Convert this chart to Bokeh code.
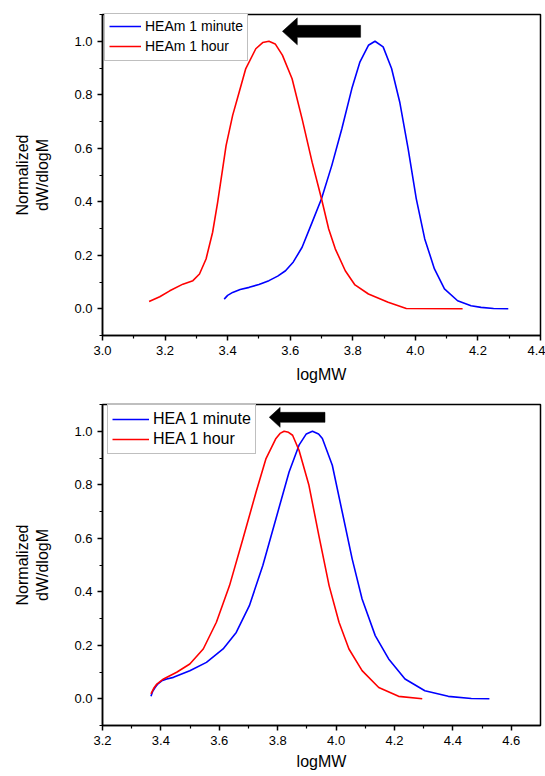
from bokeh.plotting import figure
from bokeh.layouts import column
from bokeh.models import (FixedTicker, PrintfTickFormatter, Legend, LegendItem,
                          Range1d)
from bokeh.embed import file_html
from bokeh.resources import INLINE

# ---------------- data: top panel (HEAm) ----------------
heam_1min_x = [3.389, 3.400, 3.416, 3.440, 3.469, 3.500, 3.532, 3.560, 3.585,
               3.610, 3.638, 3.670, 3.700, 3.733, 3.765, 3.797, 3.823, 3.850,
               3.871, 3.897, 3.924, 3.950, 3.977, 4.003, 4.030, 4.061, 4.093,
               4.135, 4.178, 4.210, 4.250, 4.297]
heam_1min_y = [0.036, 0.050, 0.061, 0.072, 0.080, 0.091, 0.105, 0.122, 0.142,
               0.175, 0.230, 0.323, 0.411, 0.536, 0.673, 0.823, 0.923, 0.985,
               1.000, 0.979, 0.898, 0.773, 0.598, 0.411, 0.261, 0.149, 0.074,
               0.030, 0.011, 0.005, 0.001, 0.000]
heam_1h_x = [3.149, 3.183, 3.215, 3.257, 3.289, 3.310, 3.331, 3.352, 3.368,
             3.384, 3.395, 3.416, 3.437, 3.458, 3.490, 3.512, 3.532, 3.552,
             3.575, 3.606, 3.638, 3.670, 3.700, 3.723, 3.744, 3.776, 3.807,
             3.850, 3.913, 3.971, 4.151]
heam_1h_y = [0.027, 0.045, 0.067, 0.092, 0.105, 0.130, 0.186, 0.286, 0.398,
             0.523, 0.610, 0.723, 0.810, 0.898, 0.972, 0.995, 1.000, 0.990,
             0.948, 0.860, 0.710, 0.548, 0.411, 0.298, 0.224, 0.142, 0.089,
             0.055, 0.024, 0.001, 0.000]

# ---------------- data: bottom panel (HEA) ----------------
hea_1min_x = [3.366, 3.372, 3.380, 3.390, 3.403, 3.420, 3.443, 3.499, 3.556,
              3.613, 3.658, 3.703, 3.749, 3.794, 3.839, 3.873, 3.898, 3.919,
              3.940, 3.953, 3.987, 4.021, 4.055, 4.089, 4.134, 4.180, 4.236,
              4.304, 4.384, 4.463, 4.525]
hea_1min_y = [0.009, 0.028, 0.042, 0.056, 0.067, 0.074, 0.080, 0.105, 0.136,
              0.186, 0.248, 0.348, 0.498, 0.673, 0.848, 0.948, 0.990, 1.000,
              0.990, 0.973, 0.873, 0.698, 0.523, 0.373, 0.236, 0.149, 0.074,
              0.030, 0.009, 0.001, 0.000]
hea_1h_x = [3.366, 3.375, 3.386, 3.409, 3.454, 3.499, 3.545, 3.590, 3.635,
            3.681, 3.726, 3.760, 3.794, 3.808, 3.822, 3.837, 3.851, 3.873,
            3.907, 3.941, 3.976, 4.010, 4.044, 4.089, 4.146, 4.214, 4.295]
hea_1h_y = [0.018, 0.038, 0.055, 0.074, 0.099, 0.130, 0.186, 0.286, 0.423,
            0.598, 0.773, 0.898, 0.973, 0.992, 1.000, 0.996, 0.985, 0.929,
            0.798, 0.610, 0.423, 0.286, 0.186, 0.105, 0.042, 0.009, 0.000]

top_labels = ["HEAm 1 minute", "HEAm 1 hour"]
bottom_labels = ["HEA 1 minute", "HEA 1 hour"]
y_ticks = [0.0, 0.2, 0.4, 0.6, 0.8, 1.0]
top_x_ticks = [3.0, 3.2, 3.4, 3.6, 3.8, 4.0, 4.2, 4.4]
bottom_x_ticks = [3.2, 3.4, 3.6, 3.8, 4.0, 4.2, 4.4, 4.6]

FONT = "Liberation Sans"
BLUE = "#0000ff"
RED = "#ff0000"
WIDTH = 545


def make_panel(xr, x_ticks, height, border_left, border_right, border_top,
               border_bottom, series, labels, legend_font, glyph_w, legend_pos,
               arrow, tick_font, xlabel_standoff):
    p = figure(width=WIDTH, height=height, x_range=Range1d(*xr),
               y_range=Range1d(-0.1, 1.1), output_backend="svg",
               toolbar_location=None, min_border_left=border_left,
               min_border_right=border_right, min_border_top=border_top,
               min_border_bottom=border_bottom,
               background_fill_color="white", border_fill_color="white",
               outline_line_color="black", outline_line_width=1.5)
    p.grid.visible = False

    x_minor = [round(t + 0.1, 2) for t in x_ticks[:-1]] + [round(x_ticks[0] - 0.1, 2)]
    p.xaxis.ticker = FixedTicker(ticks=x_ticks, minor_ticks=x_minor)
    p.yaxis.ticker = FixedTicker(ticks=y_ticks,
                                 minor_ticks=[-0.1, 0.1, 0.3, 0.5, 0.7, 0.9, 1.1])
    p.xaxis.formatter = PrintfTickFormatter(format="%.1f")
    p.yaxis.formatter = PrintfTickFormatter(format="%.1f")

    for ax in (p.xaxis[0], p.yaxis[0]):
        ax.axis_line_width = 1.5
        ax.axis_line_color = "black"
        ax.major_tick_line_width = 1.5
        ax.minor_tick_line_width = 1.2
        ax.major_tick_in = 0
        ax.major_tick_out = 5
        ax.minor_tick_in = 0
        ax.minor_tick_out = 3
        ax.major_label_text_font = FONT
        ax.major_label_text_font_size = tick_font
        ax.major_label_text_color = "black"
        ax.major_label_standoff = 5
        ax.axis_label_text_font = FONT
        ax.axis_label_text_font_size = "16px"
        ax.axis_label_text_font_style = "normal"
        ax.axis_label_text_color = "black"

    p.xaxis.axis_label = "logMW"
    p.xaxis.axis_label_standoff = xlabel_standoff
    p.yaxis.axis_label = "Normalized\ndW/dlogM"
    p.yaxis.axis_label_standoff = 20

    items = []
    for (xs, ys, col), lab in zip(series, labels):
        r = p.line(xs, ys, line_color=col, line_width=1.6, line_join="round")
        items.append(LegendItem(label=lab, renderers=[r]))

    leg = Legend(items=items, location=legend_pos, padding=4, spacing=0,
                 margin=0, glyph_width=glyph_w, label_standoff=4,
                 label_text_font=FONT, label_text_font_size=legend_font,
                 label_text_color="black", border_line_color="#7f7f7f",
                 border_line_width=1.2, background_fill_color="white",
                 background_fill_alpha=1.0)
    p.add_layout(leg)

    # black arrow pointing left (annotation); geometry given in pixels
    tip_x, tail_x, ay, shaft_px, head_px, head_len_px = arrow
    fw = WIDTH - border_left - border_right
    fh = height - border_top - border_bottom
    ux = (xr[1] - xr[0]) / fw
    uy = 1.2 / fh
    hs = shaft_px / 2 * uy
    hh = head_px / 2 * uy
    hx = tip_x + head_len_px * ux
    p.patch([tip_x, hx, hx, tail_x, tail_x, hx, hx],
            [ay, ay + hh, ay + hs, ay + hs, ay - hs, ay - hs, ay - hh],
            fill_color="black", line_color="black", line_width=0.5)
    return p


top = make_panel((3.0, 4.4), top_x_ticks, 389, 99, 5, 14, 54,
                 [(heam_1min_x, heam_1min_y, BLUE), (heam_1h_x, heam_1h_y, RED)],
                 top_labels, "14px", 32, (2, 321 - 9 - 38),
                 (3.575, 3.825, 1.037, 12, 27, 15), "13px", 8)
bottom = make_panel((3.2, 4.7), bottom_x_ticks, 387, 102, 1, 15, 51,
                    [(hea_1min_x, hea_1min_y, BLUE), (hea_1h_x, hea_1h_y, RED)],
                    bottom_labels, "16px", 37, (5, 321 - 8 - 42),
                    (3.771, 3.962, 1.052, 10, 20, 11), "13px", 5)

layout = column(top, bottom, spacing=0)
open("out.html", "w").write(file_html(layout, INLINE))
